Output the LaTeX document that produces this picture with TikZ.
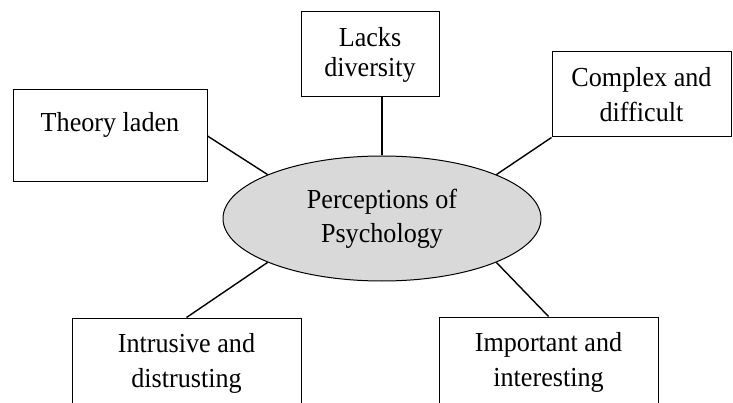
\documentclass[tikz,border=0pt]{standalone}
\usepackage{fontspec}
\setmainfont{Liberation Serif}[FakeStretch=0.95]
\usetikzlibrary{shapes.geometric}
\definecolor{ellfill}{RGB}{217,217,217}
\begin{document}
\begin{tikzpicture}[x=1pt,y=-1pt,
  box/.style={draw, line width=1pt, rectangle, align=center, inner sep=0pt,
    font=\fontsize{27.5}{35}\selectfont},
  oval/.style={draw, ellipse, fill=ellfill, line width=1pt, inner sep=0pt,
    align=center, font=\fontsize{27.5}{34}\selectfont},
  link/.style={line width=1.4pt},
]
\useasboundingbox (0,0) rectangle (733,403);
\node[box, minimum width=194pt, minimum height=92pt] (theory) at (110,136)
  {\raisebox{11pt}[\height][\depth]{Theory laden}};
\node[box, minimum width=138pt, minimum height=85pt,
  font=\fontsize{27.5}{30}\selectfont] (lacks) at (370,54.5) {Lacks\\diversity};
\node[box, minimum width=179pt, minimum height=85pt] (complex) at (641.5,94.5)
  {Complex and\\difficult};
\node[oval, minimum width=318pt, minimum height=125pt] (psy) at (382,218.5)
  {Perceptions of\\Psychology};
\node[box, minimum width=229pt, minimum height=90pt] (intr) at (186.5,363)
  {Intrusive and\\distrusting};
\node[box, minimum width=219pt, minimum height=90pt] (imp) at (548.5,362)
  {Important and\\interesting};
\draw[link] (theory.east) -- (psy.159);
\draw[link] (lacks.south -| psy.north) -- (psy.north);
\draw[link] (complex.south west) -- (psy.21);
\draw[link] (intr.north) -- (psy.201);
\draw[link] (imp.north) -- (psy.339);
\end{tikzpicture}
\end{document}
